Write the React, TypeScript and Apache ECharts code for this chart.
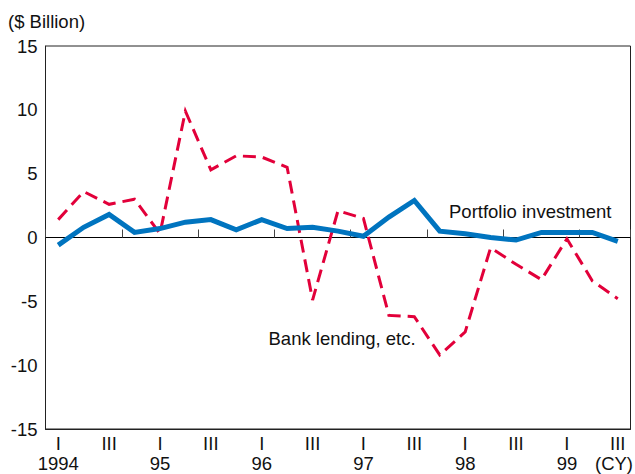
import React, { useEffect, useRef } from "react";
import * as echarts from "echarts";

const categories = [
  "1994 I", "1994 II", "1994 III", "1994 IV",
  "1995 I", "1995 II", "1995 III", "1995 IV",
  "1996 I", "1996 II", "1996 III", "1996 IV",
  "1997 I", "1997 II", "1997 III", "1997 IV",
  "1998 I", "1998 II", "1998 III", "1998 IV",
  "1999 I", "1999 II", "1999 III",
];
const quarterTicks = [
  "I", "", "III", "", "I", "", "III", "", "I", "", "III", "",
  "I", "", "III", "", "I", "", "III", "", "I", "", "III",
];
const yearTicks = [
  "1994", "", "", "", "95", "", "", "", "96", "", "", "",
  "97", "", "", "", "98", "", "", "", "99", "", "",
];
const portfolioInvestment = [
  -0.6, 0.8, 1.8, 0.4, 0.7, 1.2, 1.4, 0.6, 1.4, 0.7, 0.8, 0.5,
  0.1, 1.6, 2.9, 0.5, 0.3, 0.0, -0.2, 0.4, 0.4, 0.4, -0.3,
];
const bankLending = [
  1.4, 3.6, 2.6, 3.0, 0.3, 9.9, 5.3, 6.4, 6.3, 5.5, -4.9, 2.1,
  1.5, -6.1, -6.2, -9.2, -7.4, -0.8, -2.1, -3.3, -0.1, -3.4, -4.8,
];
const yTicks = { min: -15, max: 15, interval: 5 };

const FONT = "'Liberation Sans', Arial, Helvetica, sans-serif";
const TEXT = "#111";

export default function App() {
  const ref = useRef<HTMLDivElement>(null);
  useEffect(() => {
    if (!ref.current) return;
    const chart = echarts.init(ref.current, null, { renderer: "svg" });
    chart.setOption({
      animation: false,
      backgroundColor: "#fff",
      textStyle: { fontFamily: FONT },
      grid: {
        left: 45.5,
        right: 4.5,
        top: 46,
        bottom: 45,
        show: true,
        borderColor: "#222",
        borderWidth: 1,
        containLabel: false,
        outerBoundsMode: "none",
      },
      xAxis: [
        {
          type: "category",
          data: categories,
          position: "bottom",
          boundaryGap: true,
          axisLine: { show: true, onZero: false, lineStyle: { color: "#222", width: 1 } },
          axisTick: { show: false },
          splitLine: { show: false },
          axisLabel: {
            interval: 0,
            margin: 4,
            fontSize: 18.5,
            lineHeight: 20.5,
            color: TEXT,
            fontFamily: FONT,
            formatter: (_v: string, i: number) => {
              const q = quarterTicks[i];
              const y = yearTicks[i];
              if (!q) return "";
              return y ? q + "\n" + y : q;
            },
          },
        },
        {
          type: "category",
          data: categories,
          position: "top",
          boundaryGap: true,
          axisLine: { show: true, onZero: true, lineStyle: { color: "#000", width: 1 } },
          axisTick: { show: true, inside: false, length: 8, lineStyle: { color: "#444", width: 1 } },
          axisLabel: { show: false },
          splitLine: { show: false },
        },
      ],
      yAxis: {
        type: "value",
        min: yTicks.min,
        max: yTicks.max,
        interval: yTicks.interval,
        axisLine: { show: true, lineStyle: { color: "#222", width: 1 } },
        axisTick: { show: false },
        splitLine: { show: false },
        axisLabel: { margin: 8, fontSize: 18.5, color: TEXT, fontFamily: FONT },
      },
      series: [
        {
          name: "Bank lending, etc.",
          type: "line",
          data: bankLending,
          showSymbol: false,
          symbol: "none",
          xAxisIndex: 0,
          lineStyle: { color: "#E2003A", width: 3, type: [13, 7], join: "miter" },
          z: 3,
        },
        {
          name: "Portfolio investment",
          type: "line",
          data: portfolioInvestment,
          showSymbol: false,
          symbol: "none",
          xAxisIndex: 0,
          lineStyle: { color: "#0074BF", width: 5, join: "miter" },
          z: 4,
        },
      ],
      graphic: [
        {
          type: "text",
          left: 8,
          top: 12,
          style: { text: "($ Billion)", font: `18.5px ${FONT}`, fill: TEXT },
        },
        {
          type: "text",
          x: 449,
          y: 211,
          style: {
            text: "Portfolio investment",
            font: `18.5px ${FONT}`,
            fill: TEXT,
            textVerticalAlign: "middle",
          },
        },
        {
          type: "text",
          x: 268.5,
          y: 338,
          style: {
            text: "Bank lending, etc.",
            font: `18.5px ${FONT}`,
            fill: TEXT,
            textVerticalAlign: "middle",
          },
        },
        {
          type: "text",
          x: 633,
          y: 463.5,
          style: {
            text: "(CY)",
            font: `18.5px ${FONT}`,
            fill: TEXT,
            textAlign: "right",
            textVerticalAlign: "middle",
          },
        },
      ],
    });
    return () => chart.dispose();
  }, []);
  return (
    <div
      ref={ref}
      style={{ position: "fixed", left: 0, top: 0, width: 635, height: 474 }}
    />
  );
}
